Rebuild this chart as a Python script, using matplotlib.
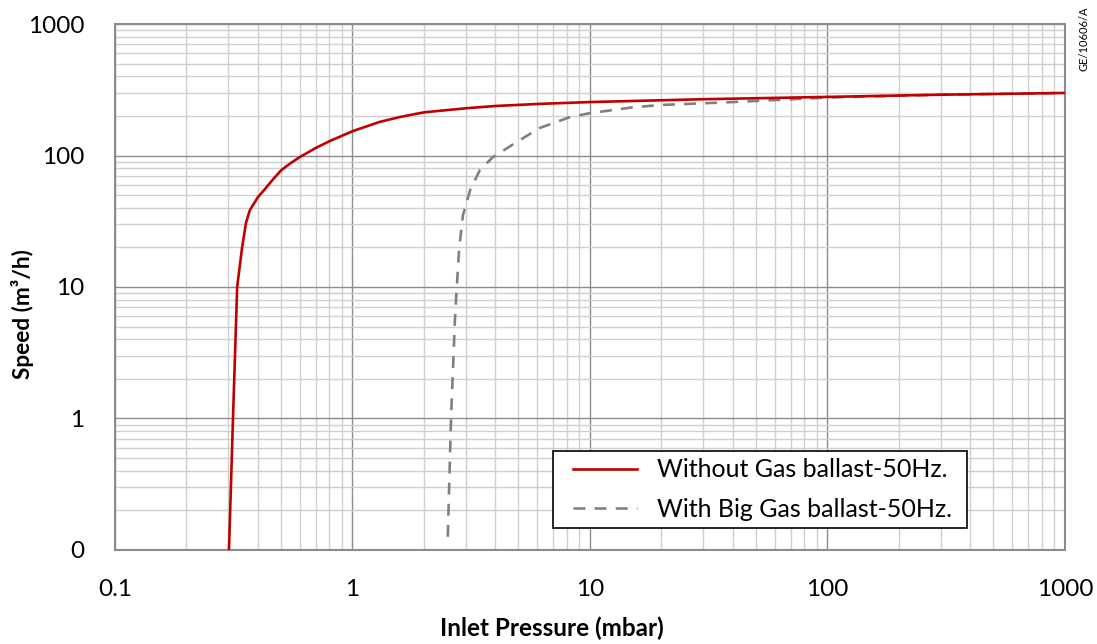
import matplotlib.pyplot as plt
from matplotlib.lines import Line2D
from matplotlib.legend_handler import HandlerLine2D
from matplotlib.ticker import FixedLocator, FixedFormatter, LogLocator, NullFormatter

plt.rcParams['font.family'] = ['Lato', 'DejaVu Sans']

# curve without gas ballast (pressure mbar, speed m3/h)
p_no_gb = [0.302, 0.314, 0.327, 0.343, 0.356, 0.37, 0.40, 0.428, 0.46, 0.50, 0.55, 0.601, 0.70,
           0.804, 1.0, 1.3, 1.58, 2.0, 3.03, 4.0, 6.15, 10, 30, 100, 300, 1000]
s_no_gb = [0.1, 1.0, 10, 20, 30.7, 38.5, 48.3, 55.5, 65, 77, 87.7, 97.5, 114,
           129, 153, 180, 196, 213, 229, 238, 247, 255, 268, 279, 290, 299]

# curve with big gas ballast
p_gb = [2.52, 2.60, 2.70, 2.75, 2.81, 2.92, 3.13, 3.44, 3.91, 4.93,
        6.15, 8.24, 10, 15, 19.7, 40, 100, 300, 1000]
s_gb = [0.126, 1.0, 5.6, 10, 19.1, 35.3, 54.7, 77.6, 97.5, 127,
        162, 196, 210, 232, 242, 255, 276, 290, 299]

x_ticks = [0.1, 1, 10, 100, 1000]
x_labels = ["0.1", "1", "10", "100", "1000"]
y_ticks = [0.1, 1, 10, 100, 1000]
y_labels = ["0", "1", "10", "100", "1000"]

fig = plt.figure(figsize=(10.97, 6.44), dpi=100)
ax = fig.add_axes([0.1048, 0.146, 0.866, 0.8167])

ax.set_xscale('log')
ax.set_yscale('log')
ax.set_xlim(0.1, 1000)
ax.set_ylim(0.1, 1000)

ax.plot(p_no_gb, s_no_gb, color='#C00000', lw=1.9, label='Without Gas ballast-50Hz.', zorder=3)
ax.plot(p_gb, s_gb, color='#808080', lw=1.9, dashes=(4.5, 3.5), label='With Big Gas ballast-50Hz.', zorder=2)

ax.xaxis.set_major_locator(FixedLocator(x_ticks))
ax.xaxis.set_major_formatter(FixedFormatter(x_labels))
ax.yaxis.set_major_locator(FixedLocator(y_ticks))
ax.yaxis.set_major_formatter(FixedFormatter(y_labels))
ax.xaxis.set_minor_locator(LogLocator(base=10, subs=range(2, 10)))
ax.yaxis.set_minor_locator(LogLocator(base=10, subs=range(2, 10)))
ax.xaxis.set_minor_formatter(NullFormatter())
ax.yaxis.set_minor_formatter(NullFormatter())

ax.grid(which='major', color='#8c8c8c', lw=1.0)
ax.grid(which='minor', color='#cfcfcf', lw=1.0)
ax.set_axisbelow(True)
ax.tick_params(which='both', length=0, labelsize=17.5)
ax.tick_params(axis='y', pad=22)
ax.tick_params(axis='x', pad=21)

for sp in ax.spines.values():
    sp.set_color('#8c8c8c')
    sp.set_linewidth(1.5)

# axis titles placed in figure pixels
fig.text(552 / 1097, 1 - 628 / 644, 'Inlet Pressure (mbar)', fontsize=17.5,
         fontweight='bold', ha='center', va='center')
fig.text(22 / 1097, 1 - 314 / 644, 'Speed (m³/h)', fontsize=16.3, fontweight='bold',
         rotation=90, ha='center', va='center')

leg = ax.legend(loc='upper left', bbox_to_anchor=(0.461, 0.0437, 0.4358, 0.1445),
                mode='expand', fontsize=18, frameon=True, fancybox=False, framealpha=1,
                edgecolor='black', handlelength=3.06, handletextpad=0.8, borderpad=0.3,
                labelspacing=0.65, borderaxespad=0,
                handler_map={Line2D: HandlerLine2D(xpad=0.5)})
leg.get_frame().set_linewidth(1.2)

fig.text(0.988, 0.99, 'GE/10606/A', rotation=90, ha='center', va='top', fontsize=8)

fig.savefig('out.png', dpi=100)
